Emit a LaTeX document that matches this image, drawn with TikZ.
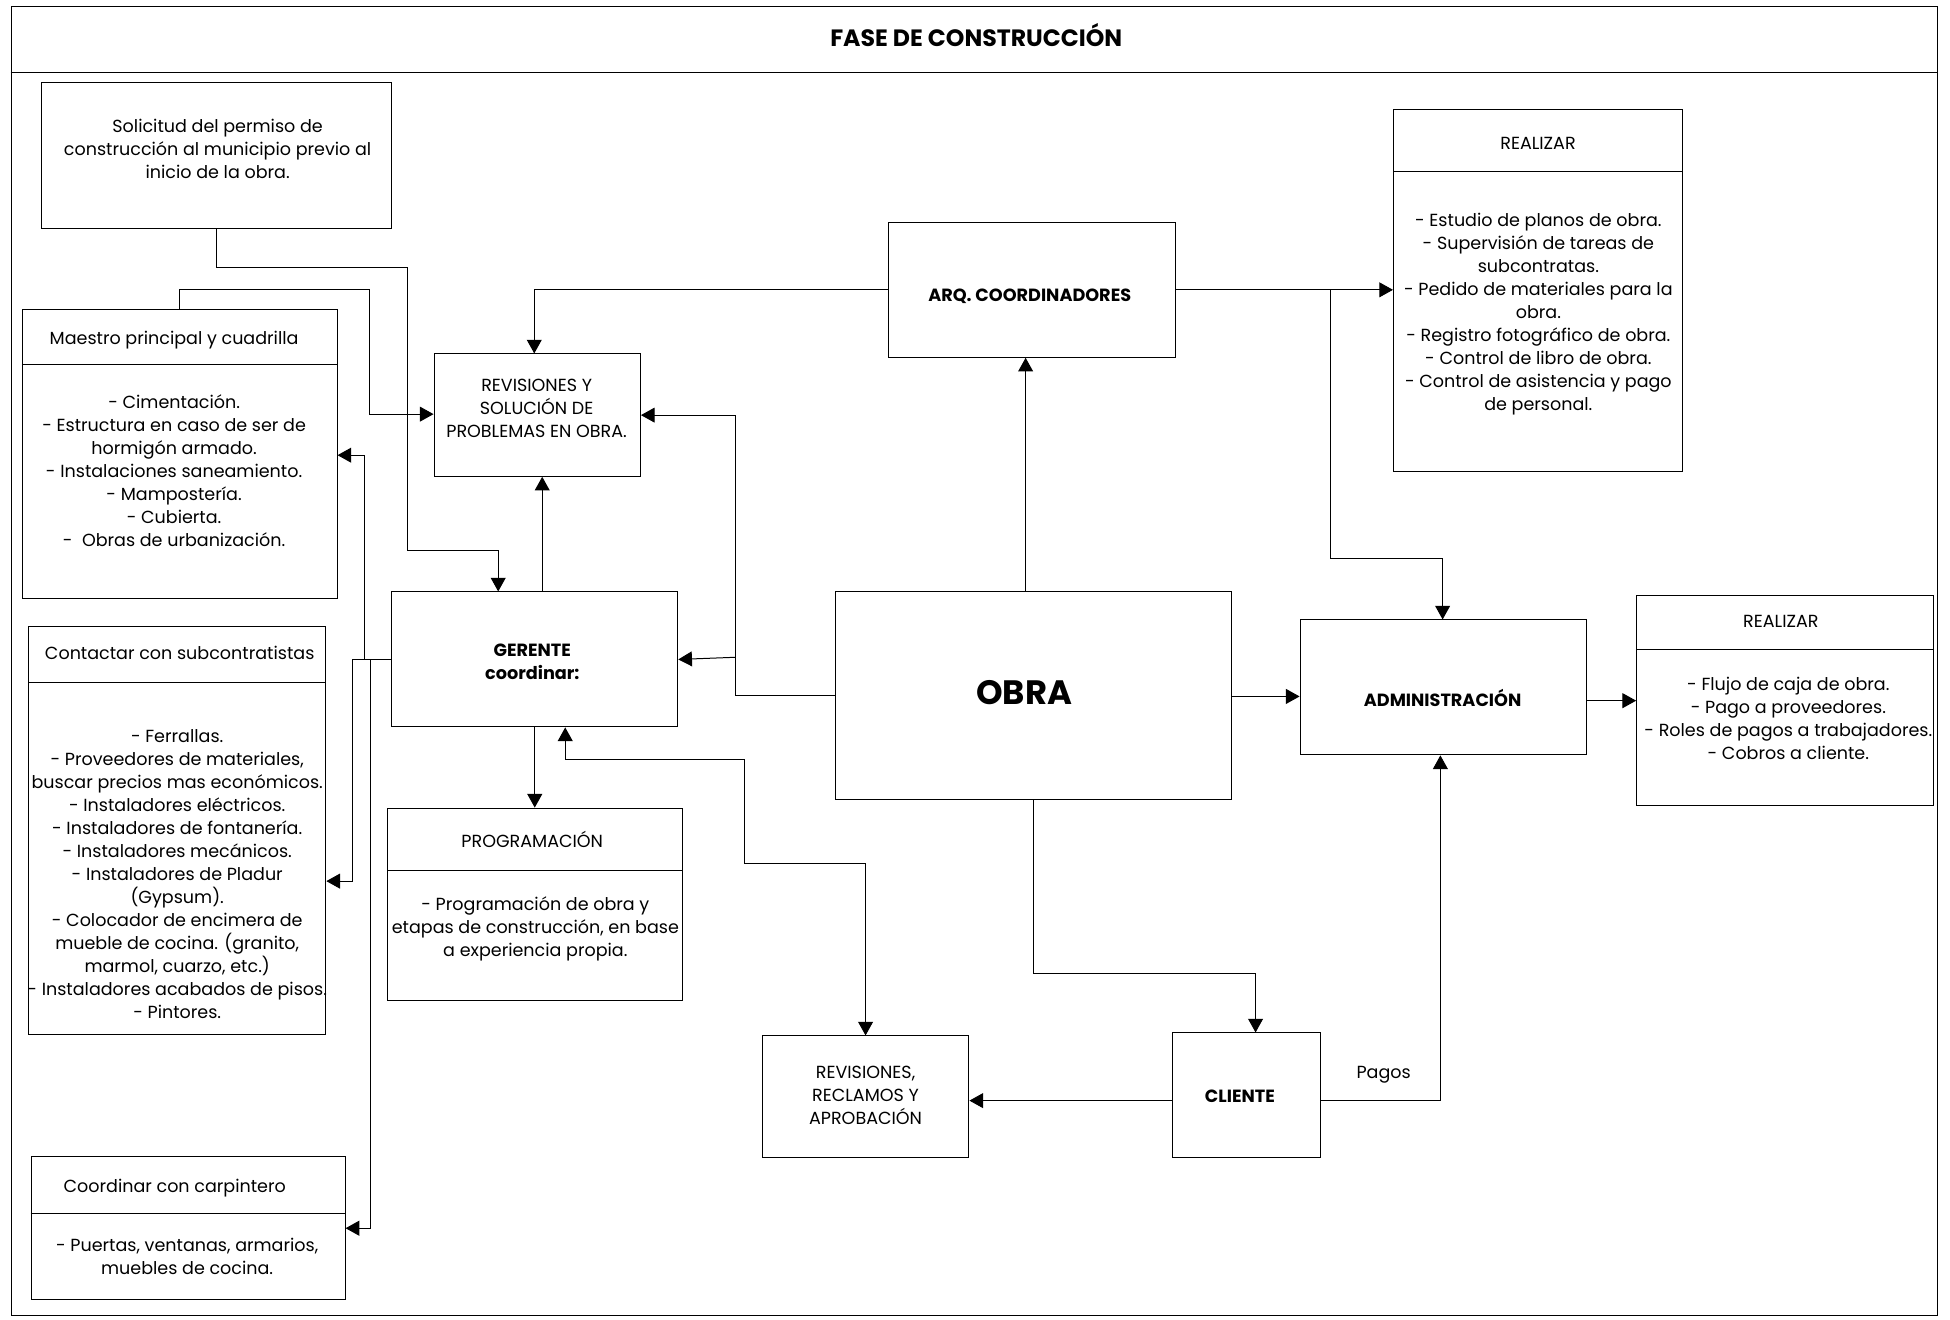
\documentclass[tikz,border=0pt]{standalone}
\usepackage{fontspec}
\setmainfont{Poppins}
\usetikzlibrary{arrows.meta}

\tikzset{
  box/.style={draw=black, line width=0.8pt, inner sep=0pt, rectangle},
  lbl/.style={align=center, inner sep=0pt, font=\fontsize{14.1}{18.5}\selectfont},
  blbl/.style={align=center, inner sep=0pt, font=\fontsize{14.2}{18.5}\selectfont\bfseries},
  link/.style={line width=0.8pt},
  arr/.style={link, -{Triangle[length=11pt,width=12pt]}},
  darr/.style={link, {Triangle[length=11pt,width=12pt]}-{Triangle[length=11pt,width=12pt]}},
}

\begin{document}
\begin{tikzpicture}[x=1pt,y=-1pt]
\useasboundingbox (0,0) rectangle (1568,1061);

% outer frame and title bar
\node[box, minimum width=1549pt, minimum height=1052.6pt] (frame) at (783.5,531.7) {};
\draw[link] (frame.west |- 0,58.2) -- (frame.east |- 0,58.2);
\node[blbl, font=\fontsize{19}{22}\selectfont\bfseries] (title) at (785,28) {FASE DE CONSTRUCCIÓN};

% boxes
\node[box, minimum width=282pt,   minimum height=118pt]   (sol) at (174,125) {};
\node[box, minimum width=253pt,   minimum height=232.5pt] (mae) at (144.5,364.75) {};
\node[box, minimum width=238.7pt, minimum height=328pt]   (con) at (142.65,668) {};
\node[box, minimum width=252.5pt, minimum height=114.6pt] (car) at (151.25,987.3) {};
\node[box, minimum width=166pt,   minimum height=98.4pt]  (rev) at (432,333.8) {};
\node[box, minimum width=230pt,   minimum height=108.5pt] (ger) at (430,530.25) {};
\node[box, minimum width=237.4pt, minimum height=155pt]   (pro) at (430.3,727.3) {};
\node[box, minimum width=230.8pt, minimum height=108.5pt] (arq) at (830.1,233.05) {};
\node[box, minimum width=232.5pt, minimum height=291.1pt] (re1) at (1236.75,233.75) {};
\node[box, minimum width=318pt,   minimum height=167pt]   (obr) at (831,559.5) {};
\node[box, minimum width=230.6pt, minimum height=108.5pt] (adm) at (1160.7,552.75) {};
\node[box, minimum width=238.8pt, minimum height=169pt]   (re2) at (1435.4,563.5) {};
\node[box, minimum width=165.7pt, minimum height=98pt]    (rv2) at (696.25,882) {};
\node[box, minimum width=118.7pt, minimum height=100.4pt] (cli) at (1002.15,880.8) {};

% header rules of the two-part boxes
\draw[link] (mae.west |- 0,293)   -- (mae.east |- 0,293);
\draw[link] (con.west |- 0,549)   -- (con.east |- 0,549);
\draw[link] (car.west |- 0,975.5) -- (car.east |- 0,975.5);
\draw[link] (pro.west |- 0,699.6) -- (pro.east |- 0,699.6);
\draw[link] (re1.west |- 0,138)   -- (re1.east |- 0,138);
\draw[link] (re2.west |- 0,521.9) -- (re2.east |- 0,521.9);

% texts
\node[lbl] (soltxt) at (175,120.1) {Solicitud del permiso de\\construcción al municipio previo al\\inicio de la obra.};
\node[lbl] (maehd) at (140,273.4) {Maestro principal y cuadrilla};
\node[lbl] (maetxt) at (140,378.1) {- Cimentación.\\- Estructura en caso de ser de\\hormigón armado.\\- Instalaciones saneamiento.\\- Mampostería.\\- Cubierta.\\-\ \ Obras de urbanización.};
\node[lbl] (conhd) at (144.5,525) {Contactar con subcontratistas};
\node[lbl] (contxt) at (142.5,702.9) {- Ferrallas.\\- Proveedores de materiales,\\buscar precios mas económicos.\\- Instaladores eléctricos.\\- Instaladores de fontanería.\\- Instaladores mecánicos.\\- Instaladores de Pladur\\(Gypsum).\\- Colocador de encimera de\\mueble de cocina. (granito,\\marmol, cuarzo, etc.)\\- Instaladores acabados de pisos.\\- Pintores.};
\node[lbl] (carhd) at (140.5,955) {Coordinar con carpintero};
\node[lbl] (cartxt) at (150.5,1010.3) {- Puertas, ventanas, armarios,\\muebles de cocina.};
\node[lbl] (revtxt) at (431.5,328.6) {REVISIONES Y\\SOLUCIÓN DE\\PROBLEMAS EN OBRA.};
\node[blbl] (gertxt) at (428,532.3) {GERENTE\\coordinar:};
\node[lbl] (prohd) at (428,675.2) {PROGRAMACIÓN};
\node[lbl] (protxt) at (430.5,746.8) {- Programación de obra y\\etapas de construcción, en base\\a experiencia propia.};
\node[blbl] (arqtxt) at (828,238.6) {ARQ. COORDINADORES};
\node[lbl] (re1hd) at (1236.7,115.3) {REALIZAR};
\node[lbl] (re1txt) at (1237,252.2) {- Estudio de planos de obra.\\- Supervisión de tareas de\\subcontratas.\\- Pedido de materiales para la\\obra.\\- Registro fotográfico de obra.\\- Control de libro de obra.\\- Control de asistencia y pago\\de personal.};
\node[blbl, font=\fontsize{27.2}{32}\selectfont\bfseries] (obrtxt) at (823.5,557) {OBRA};
\node[blbl] (admtxt) at (1160,561) {ADMINISTRACIÓN};
\node[lbl] (re2hd) at (1432,499.4) {REALIZAR};
\node[lbl] (re2txt) at (1438,578) {- Flujo de caja de obra.\\- Pago a proveedores.\\- Roles de pagos a trabajadores.\\- Cobros a cliente.};
\node[lbl] (rv2txt) at (696,881) {REVISIONES,\\RECLAMOS Y\\APROBACIÓN};
\node[blbl] (clitxt) at (997,881.7) {CLIENTE};

% connectors
\draw[arr] (sol.south) |- (328,215.3) -- (328,443) -| (ger.north -| 400.6,0);
\draw[arr] (mae.north -| 144.7,0) |- (297.2,232.6) |- (rev.west |- 0,333);
\draw[arr] (arq.west) -| (rev.north -| 429.6,0);
\draw[arr] (obr.west) -| (591.6,333.8) -- (rev.east);
\draw[arr] (591.6,528.5) -- (ger.east);
\draw[arr] (ger.north -| 436,0) -- (rev.south -| 436,0);
\draw[arr] (ger.west) -| (293.4,366) -- (mae.east |- 0,366);
\draw[arr] (ger.west) -| (283.6,708.5) -- (con.east |- 0,708.5);
\draw[arr] (ger.west) -| (298,987.6) -- (car.east |- 0,987.6);
\draw[arr] (ger.south) -- (ger.south |- pro.north);
\draw[darr] (ger.south -| 454.5,0) |- (599,611) |- (696,694.5) -- (rv2.north -| 696,0);
\draw[arr] (obr.north -| 824.7,0) -- (arq.south -| 824.7,0);
\draw[arr] (arq.east) -- (re1.west |- arq.east);
\draw[arr] (arq.east) -| (1069.7,448.8) -| (adm.north -| 1160,0);
\draw[arr] (obr.east |- 0,560) -- (adm.west |- 0,560);
\draw[arr] (adm.east |- 0,563.4) -- (re2.west |- 0,563.4);
\draw[arr] (obr.south -| 831.2,0) |- (1009.6,782.5) -- (cli.north -| 1009.6,0);
\draw[arr] (cli.west |- 0,885) -- (rv2.east |- 0,885);
\draw[arr] (cli.east |- 0,885) -| (adm.south -| 1158.2,0);
\node[lbl] (pagos) at (1112.6,864) {Pagos};

\end{tikzpicture}
\end{document}
